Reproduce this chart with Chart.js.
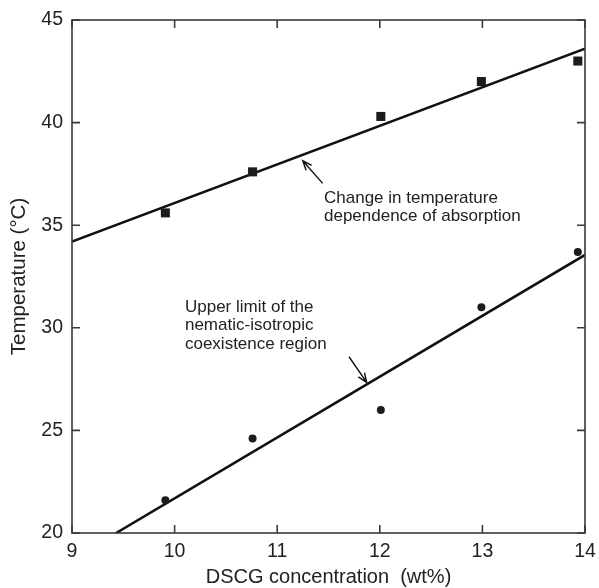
<!DOCTYPE html>
<html><head><meta charset="utf-8">
<script src="https://cdn.jsdelivr.net/npm/chart.js@4"></script>
<style>html,body{margin:0;padding:0;background:#fff}#wrap{width:599px;height:588px}</style>
</head><body><div id="wrap"><canvas id="c" width="599" height="588"></canvas></div>
<script>
// ---- data ----
const concentration = [9.91, 10.76, 12.01, 12.99, 13.93];
const absorptionChangeT = [35.6, 37.6, 40.3, 42.0, 43.0];
const coexistenceLimitT = [21.6, 24.6, 26.0, 31.0, 33.7];
const absorptionFitX = [9, 14];
const absorptionFitY = [34.2, 43.6];
const coexistenceFitX = [9.43, 14];
const coexistenceFitY = [20, 33.55];
const xTicks = [9, 10, 11, 12, 13, 14];
const yTicks = [20, 25, 30, 35, 40, 45];
const xTitle = 'DSCG concentration \u00a0(wt%)';
const yTitle = 'Temperature (\u00b0C)';
const absorptionLabel = ['Change in temperature', 'dependence of absorption'];
const absorptionLabelAt = [11.456, 36.10, 35.22];      // x, baseline y of each line
const absorptionArrowFrom = [11.443, 37.04];
const absorptionArrowTo = [11.249, 38.14];
const coexistenceLabel = ['Upper limit of the', 'nematic-isotropic', 'coexistence region'];
const coexistenceLabelAt = [10.101, 30.78, 29.87, 28.95];
const coexistenceArrowFrom = [11.70, 28.59];
const coexistenceArrowTo = [11.872, 27.34];

const FONT = 'Liberation Sans, Arial, Helvetica, sans-serif';
const pts = (xs, ys) => xs.map((x, i) => ({x, y: ys[i]}));

const decor = {
  id: 'decor',
  afterDatasetsDraw(chart) {
    const {ctx, chartArea: a, scales: {x, y}} = chart;
    ctx.save();
    // frame
    ctx.strokeStyle = '#3a3a3a';
    ctx.lineWidth = 1.6;
    ctx.strokeRect(a.left, a.top, a.right - a.left, a.bottom - a.top);
    // inward ticks on all sides
    const tl = 8;
    ctx.beginPath();
    x.ticks.forEach(t => {
      const px = x.getPixelForValue(t.value);
      ctx.moveTo(px, a.bottom); ctx.lineTo(px, a.bottom - tl);
      ctx.moveTo(px, a.top); ctx.lineTo(px, a.top + tl);
    });
    y.ticks.forEach(t => {
      const py = y.getPixelForValue(t.value);
      ctx.moveTo(a.left, py); ctx.lineTo(a.left + tl, py);
      ctx.moveTo(a.right, py); ctx.lineTo(a.right - tl, py);
    });
    ctx.stroke();
    // arrows
    const arrow = (from, to) => {
      const x0 = x.getPixelForValue(from[0]), y0 = y.getPixelForValue(from[1]);
      const x1 = x.getPixelForValue(to[0]), y1 = y.getPixelForValue(to[1]);
      const ang = Math.atan2(y1 - y0, x1 - x0);
      ctx.strokeStyle = '#111';
      ctx.lineWidth = 1.4;
      ctx.beginPath();
      ctx.moveTo(x0, y0); ctx.lineTo(x1, y1);
      const h = 10, s = 0.38;
      ctx.moveTo(x1 - h * Math.cos(ang - s), y1 - h * Math.sin(ang - s));
      ctx.lineTo(x1, y1);
      ctx.lineTo(x1 - h * Math.cos(ang + s), y1 - h * Math.sin(ang + s));
      ctx.stroke();
    };
    arrow(absorptionArrowFrom, absorptionArrowTo);
    arrow(coexistenceArrowFrom, coexistenceArrowTo);
    // labels
    ctx.fillStyle = '#222';
    ctx.font = '17px ' + FONT;
    ctx.textAlign = 'left';
    ctx.textBaseline = 'alphabetic';
    absorptionLabel.forEach((s, i) => ctx.fillText(s, x.getPixelForValue(absorptionLabelAt[0]), y.getPixelForValue(absorptionLabelAt[i + 1])));
    coexistenceLabel.forEach((s, i) => ctx.fillText(s, x.getPixelForValue(coexistenceLabelAt[0]), y.getPixelForValue(coexistenceLabelAt[i + 1])));
    ctx.restore();
  }
};

new Chart(document.getElementById('c'), {
  type: 'scatter',
  data: {
    datasets: [
      {data: pts(concentration, absorptionChangeT), pointStyle: 'rect', pointRadius: 6.4, backgroundColor: '#1c1c1c', borderWidth: 0},
      {data: pts(concentration, coexistenceLimitT), pointStyle: 'circle', pointRadius: 4, backgroundColor: '#1c1c1c', borderWidth: 0},
      {data: pts(absorptionFitX, absorptionFitY), showLine: true, pointRadius: 0, borderColor: '#111', borderWidth: 2.6},
      {data: pts(coexistenceFitX, coexistenceFitY), showLine: true, pointRadius: 0, borderColor: '#111', borderWidth: 2.6}
    ]
  },
  options: {
    responsive: false,
    animation: false,
    events: [],
    layout: {padding: {left: 0, right: 14, top: 20, bottom: 0}},
    plugins: {legend: {display: false}, tooltip: {enabled: false}},
    scales: {
      x: {
        type: 'linear', min: 9, max: 14,
        afterBuildTicks: s => { s.ticks = xTicks.map(v => ({value: v})); },
        afterFit: s => { s.height = 55; s.paddingLeft = 0; s.paddingRight = 0; },
        grid: {display: false, drawTicks: false},
        border: {display: false},
        ticks: {padding: 7, color: '#222', font: {family: FONT, size: 19.5}, maxRotation: 0},
        title: {display: true, text: xTitle, color: '#222', font: {family: FONT, size: 20, lineHeight: 1.1}, padding: 0}
      },
      y: {
        type: 'linear', min: 20, max: 45,
        afterBuildTicks: s => { s.ticks = yTicks.map(v => ({value: v})); },
        afterFit: s => { s.width = 72; s.paddingTop = 0; s.paddingBottom = 0; },
        grid: {display: false, drawTicks: false},
        border: {display: false},
        ticks: {padding: 9, color: '#222', font: {family: FONT, size: 19.5}},
        title: {display: true, text: yTitle, color: '#222', font: {family: FONT, size: 20.5}, padding: {top: 7, bottom: 0}}
      }
    }
  },
  plugins: [decor]
});
</script></body></html>
